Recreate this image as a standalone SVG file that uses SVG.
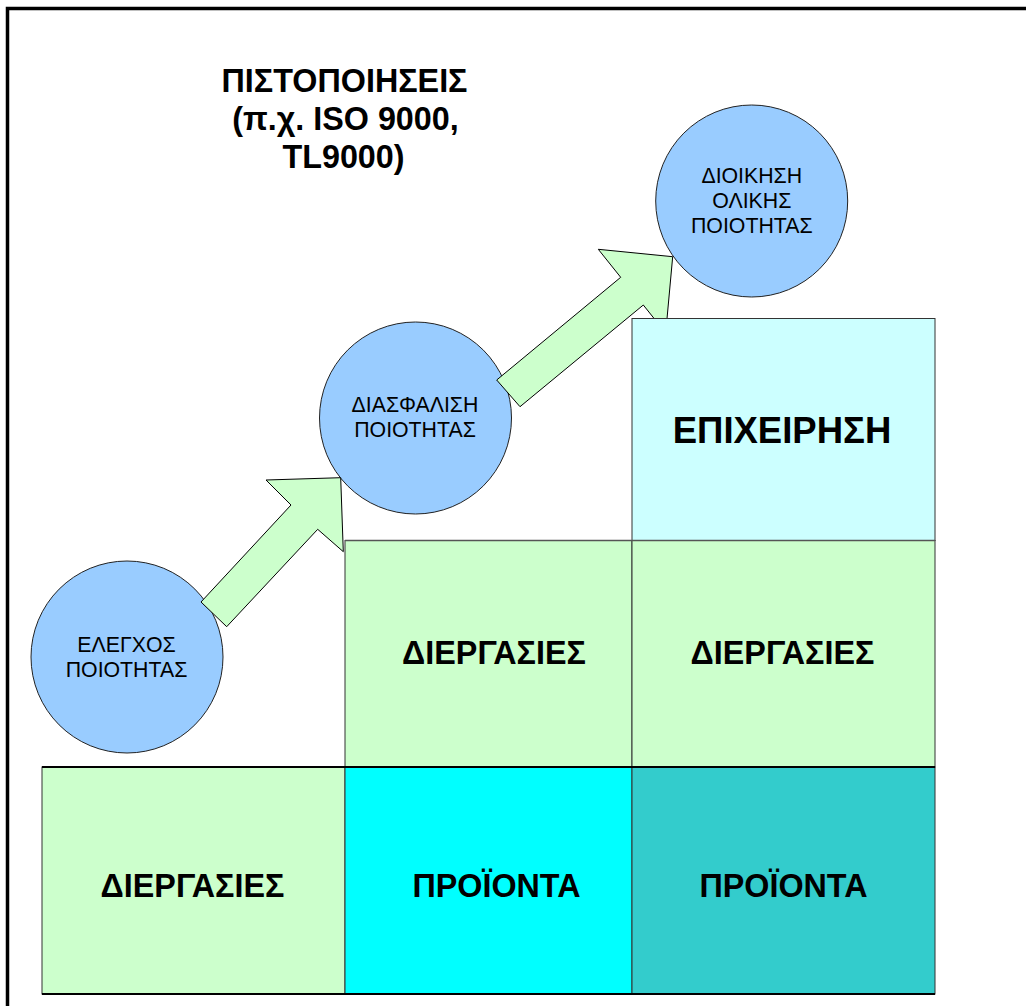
<svg xmlns="http://www.w3.org/2000/svg" width="1026" height="1006" viewBox="0 0 1026 1006">
<style>
text{font-family:"Liberation Sans",Arial,sans-serif;text-anchor:middle;fill:#000}
.b{font-weight:bold}
.t{font-size:32.3px;font-weight:bold}
.c{font-size:21.3px}
.circ{fill:#99CCFF;stroke:#222;stroke-width:1}
.arr{fill:#CCFFCC;stroke:#000;stroke-width:1;stroke-linejoin:miter}
.box{stroke:#333;stroke-width:1}
</style>
<rect x="0" y="0" width="1026" height="1006" fill="#fff"/>
<path d="M7.5 1006 V8.5 H1026" fill="none" stroke="#000" stroke-width="3.5"/>
<g id="title">
<text class="t" x="344.5" y="92">ΠΙΣΤΟΠΟΙΗΣΕΙΣ</text>
<text class="t" x="345.5" y="130">(π.χ. ISO 9000,</text>
<text class="t" x="343.5" y="168">TL9000)</text>
</g>
<g id="node-elegxos">
<circle class="circ" cx="127" cy="657" r="96"/>
<text class="c" x="126.5" y="652">ΕΛΕΓΧΟΣ</text>
<text class="c" x="126.5" y="677">ΠΟΙΟΤΗΤΑΣ</text>
</g>
<g id="node-diasfalisi">
<circle class="circ" cx="415.5" cy="418" r="96"/>
<text class="c" x="415" y="412">ΔΙΑΣΦΑΛΙΣΗ</text>
<text class="c" x="415" y="437">ΠΟΙΟΤΗΤΑΣ</text>
</g>
<g id="node-dioikisi">
<circle class="circ" cx="751.7" cy="201" r="96"/>
<text class="c" x="751.8" y="183">ΔΙΟΙΚΗΣΗ</text>
<text class="c" x="751.8" y="208">ΟΛΙΚΗΣ</text>
<text class="c" x="751.8" y="233">ΠΟΙΟΤΗΤΑΣ</text>
</g>
<g id="connectors">
<polygon class="arr" points="201,602 291,505 266,480 340.7,477.7 343.3,551.7 317.7,529.3 226.7,626.7"/>
<polygon class="arr" points="496.7,380 620.7,277.3 598.3,249.3 672.7,256.7 665.7,333 643.3,305 520,406.7"/>
</g>
<g id="node-epixeirisi">
<rect class="box" x="632" y="318.5" width="303" height="222" fill="#CCFFFF"/>
<text class="b" style="font-size:36.5px" x="782" y="443">ΕΠΙΧΕΙΡΗΣΗ</text>
</g>
<g id="node-diergasies-mid">
<rect class="box" x="345" y="540.5" width="287" height="226.5" fill="#CCFFCC"/>
<text class="t" x="494" y="664">ΔΙΕΡΓΑΣΙΕΣ</text>
</g>
<g id="node-diergasies-right">
<rect class="box" x="632" y="540.5" width="303" height="226.5" fill="#CCFFCC"/>
<text class="t" x="782.5" y="664">ΔΙΕΡΓΑΣΙΕΣ</text>
</g>
<g id="node-diergasies-bottom">
<rect class="box" x="42" y="767" width="303" height="227" fill="#CCFFCC" stroke="#4A7A4A"/>
<text class="t" x="192.5" y="897">ΔΙΕΡΓΑΣΙΕΣ</text>
</g>
<g id="node-proionta-mid">
<rect class="box" x="345" y="767" width="287" height="227" fill="#00FFFF"/>
<text class="t" x="496.5" y="897">ΠΡΟΪΟΝΤΑ</text>
</g>
<g id="node-proionta-right">
<rect class="box" x="632" y="767" width="303" height="227" fill="#33CCCC"/>
<text class="t" x="783.5" y="897">ΠΡΟΪΟΝΤΑ</text>
</g>
<path d="M42 767 H935 M42 994 H935" stroke="#000" stroke-width="2" fill="none"/>
<path d="M345 540.5 H935" stroke="#555" stroke-width="1.5" fill="none"/>
</svg>
